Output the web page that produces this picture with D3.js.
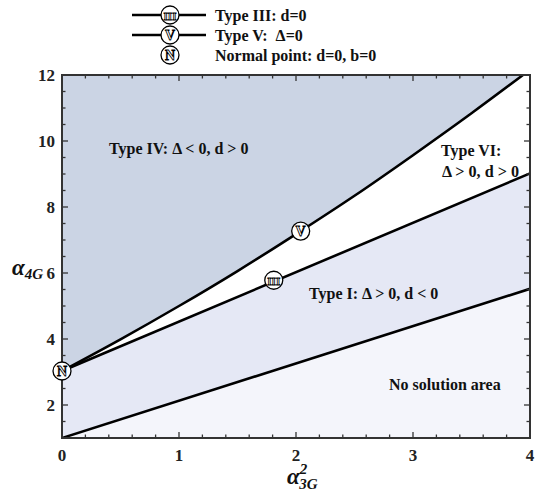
<!DOCTYPE html>
<html><head><meta charset="utf-8">
<script src="https://cdn.jsdelivr.net/npm/d3@7"></script>
<style>body{margin:0;background:#fff}svg{display:block}</style>
</head><body>
<script>
// Data
const typeVx = [0, 0.5, 1, 1.5, 2, 2.5, 3, 3.5, 3.94];
const typeVy = [3.03, 3.99, 5.0, 6.06, 7.18, 8.34, 9.57, 10.84, 12.0];
const typeIIIx = [0, 4];
const typeIIIy = [3.03, 9.02];
const boundX = [0, 4];
const boundY = [1.0, 5.52];
const normalPoint = [0, 3.03];
const markerIII = [1.81, 5.78];
const markerV = [2.04, 7.27];
const xTicks = [0, 1, 2, 3, 4];
const yTicks = [2, 4, 6, 8, 10, 12];
const legendItems = ["Type III: d=0", "Type V:  \u0394=0", "Normal point: d=0, b=0"];
const legendSymbols = ["III", "V", "N"];

const W = 550, H = 495;
const svg = d3.select("body").append("svg").attr("width", W).attr("height", H);
const x = d3.scaleLinear().domain([0, 4]).range([62, 530]);
const y = d3.scaleLinear().domain([1, 12]).range([438, 75]);
const serif = "'Liberation Serif','Times New Roman',serif";

const defs = svg.append("defs");
defs.append("clipPath").attr("id", "plot").append("rect")
  .attr("x", x(0)).attr("y", y(12)).attr("width", x(4) - x(0)).attr("height", y(1) - y(12));

const g = svg.append("g").attr("clip-path", "url(#plot)");
const V = typeVx.map((d, i) => [d, typeVy[i]]);
const III = typeIIIx.map((d, i) => [d, typeIIIy[i]]);
const B = boundX.map((d, i) => [d, boundY[i]]);

g.append("rect").attr("x", x(0)).attr("y", y(12)).attr("width", x(4) - x(0)).attr("height", y(1) - y(12)).attr("fill", "#fff");
g.append("path").datum(V)
  .attr("d", d3.area().x(d => x(d[0])).y0(d => y(d[1])).y1(y(12)).curve(d3.curveMonotoneX))
  .attr("fill", "#cbd4e4");
g.append("path").datum(B)
  .attr("d", d3.area().x(d => x(d[0])).y0(d => y(d[1])).y1((d, i) => y(III[i][1])))
  .attr("fill", "#e5e8f5");
g.append("path").datum(B)
  .attr("d", d3.area().x(d => x(d[0])).y0(y(1)).y1(d => y(d[1])))
  .attr("fill", "#f4f5fb");

g.append("path").attr("d", d3.line().x(d => x(d[0])).y(d => y(d[1])).curve(d3.curveMonotoneX)(V)).attr("fill", "none").attr("stroke", "#000").attr("stroke-width", 2.6);
g.append("path").attr("d", d3.line().x(d => x(d[0])).y(d => y(d[1]))(III)).attr("fill", "none").attr("stroke", "#000").attr("stroke-width", 2.6);
g.append("path").attr("d", d3.line().x(d => x(d[0])).y(d => y(d[1]))(B)).attr("fill", "none").attr("stroke", "#000").attr("stroke-width", 2.6);

const axC = "#333";
function minor(a, b, s) { const r = []; for (let v = a; v <= b + 1e-9; v += s) r.push(+v.toFixed(3)); return r; }
const xMinor = minor(0, 4, 0.2);
const yMinor = minor(1, 12, 0.5);
const ax = svg.append("g");
xMinor.forEach(v => {
  const major = Math.abs(v - Math.round(v)) < 1e-6;
  const L = major ? 6 : 3.5;
  ax.append("line").attr("x1", x(v)).attr("x2", x(v)).attr("y1", y(1)).attr("y2", y(1) - L).attr("stroke", axC).attr("stroke-width", 1.3);
  ax.append("line").attr("x1", x(v)).attr("x2", x(v)).attr("y1", y(12)).attr("y2", y(12) + L).attr("stroke", axC).attr("stroke-width", 1.3);
});
yMinor.forEach(v => {
  const major = Math.abs(v / 2 - Math.round(v / 2)) < 1e-6;
  const L = major ? 6 : 3.5;
  ax.append("line").attr("y1", y(v)).attr("y2", y(v)).attr("x1", x(0)).attr("x2", x(0) + L).attr("stroke", axC).attr("stroke-width", 1.3);
  ax.append("line").attr("y1", y(v)).attr("y2", y(v)).attr("x1", x(4)).attr("x2", x(4) - L).attr("stroke", axC).attr("stroke-width", 1.3);
});
ax.append("rect").attr("x", x(0)).attr("y", y(12)).attr("width", x(4) - x(0)).attr("height", y(1) - y(12))
  .attr("fill", "none").attr("stroke", axC).attr("stroke-width", 2);

xTicks.forEach(v => {
  ax.append("text").attr("x", x(v)).attr("y", 461).attr("text-anchor", "middle")
    .attr("font-family", serif).attr("font-weight", "bold").attr("font-size", 17).attr("fill", "#222").text(v);
});
yTicks.forEach(v => {
  ax.append("text").attr("x", 55).attr("y", y(v) + 6).attr("text-anchor", "end")
    .attr("font-family", serif).attr("font-weight", "bold").attr("font-size", 17).attr("fill", "#222").text(v);
});

const yt = svg.append("text").attr("x", 12).attr("y", 275).attr("font-family", serif).attr("font-weight", "bold").attr("font-style", "italic").attr("fill", "#111");
yt.append("tspan").attr("font-size", 23).text("\u03b1");
yt.append("tspan").attr("font-size", 15).attr("dy", 4).text("4G");
const xt = svg.append("text").attr("x", 287).attr("y", 484).attr("font-family", serif).attr("font-weight", "bold").attr("font-style", "italic").attr("fill", "#111");
xt.append("tspan").attr("font-size", 23).text("\u03b1");
xt.append("tspan").attr("font-size", 15).attr("dy", -10).text("2");
xt.append("tspan").attr("font-size", 15).attr("dx", -8).attr("dy", 15).text("3G");

function label(t, px, py, anchor) {
  svg.append("text").attr("x", px).attr("y", py).attr("text-anchor", anchor || "start")
    .attr("font-family", serif).attr("font-weight", "bold").attr("font-size", 16).attr("fill", "#111")
    .attr("xml:space", "preserve").style("white-space", "pre").text(t);
}
label("Type IV: \u0394 < 0, d > 0", 109, 154);
label("Type VI:", 441, 156);
svg.append("text").attr("x", 442).attr("y", 177).attr("font-family", serif).attr("font-weight", "bold")
  .attr("font-size", 16).attr("fill", "#111").attr("textLength", 77).attr("lengthAdjust", "spacingAndGlyphs")
  .text("\u0394 > 0, d > 0");
label("Type I: \u0394 > 0, d < 0", 309, 299);
label("No solution area", 389, 390);

function marker(cx, cy, sym) {
  svg.append("circle").attr("cx", cx).attr("cy", cy).attr("r", 9).attr("fill", "#fff").attr("stroke", "#000").attr("stroke-width", 1.3);
  svg.append("text").attr("x", cx).attr("y", cy + 4.6).attr("text-anchor", "middle")
    .attr("font-family", serif).attr("font-size", sym === "III" ? 11 : 14).attr("fill", "#fff")
    .attr("stroke", "#000").attr("stroke-width", 0.8).attr("font-weight", "bold").text(sym);
}
marker(x(markerIII[0]), y(markerIII[1]), "III");
marker(x(markerV[0]), y(markerV[1]), "V");
marker(x(normalPoint[0]), y(normalPoint[1]), "N");

legendItems.forEach((t, i) => {
  const ly = 15 + i * 20;
  if (i < 2) svg.append("line").attr("x1", 132).attr("x2", 206).attr("y1", ly).attr("y2", ly).attr("stroke", "#000").attr("stroke-width", 2.6);
  marker(170, ly, legendSymbols[i]);
  svg.append("text").attr("x", 215).attr("y", ly + 5.5).attr("font-family", serif).attr("font-weight", "bold")
    .attr("font-size", 16).attr("fill", "#111").attr("xml:space", "preserve").style("white-space", "pre").text(t);
});
</script>
</body></html>
